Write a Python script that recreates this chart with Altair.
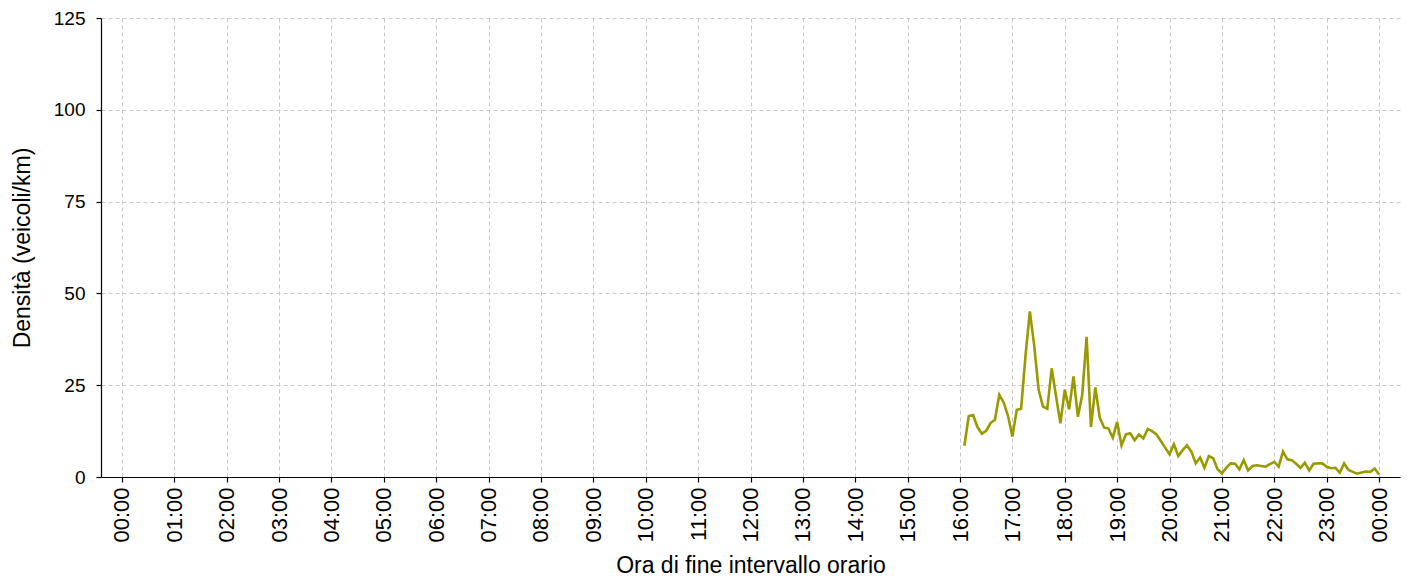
import altair as alt
import pandas as pd

times = [
    "16:05", "16:10", "16:15", "16:20", "16:25", "16:30", "16:35", "16:40", "16:45", "16:50", "16:55",
    "17:00", "17:05", "17:10", "17:15", "17:20", "17:25", "17:30", "17:35", "17:40", "17:45", "17:50", "17:55",
    "18:00", "18:05", "18:10", "18:15", "18:20", "18:25", "18:30", "18:35", "18:40", "18:45", "18:50", "18:55",
    "19:00", "19:05", "19:10", "19:15", "19:20", "19:25", "19:30", "19:35", "19:40", "19:45", "19:50", "19:55",
    "20:00", "20:05", "20:10", "20:15", "20:20", "20:25", "20:30", "20:35", "20:40", "20:45", "20:50", "20:55",
    "21:00", "21:05", "21:10", "21:15", "21:20", "21:25", "21:30", "21:35", "21:40", "21:45", "21:50", "21:55",
    "22:00", "22:05", "22:10", "22:15", "22:20", "22:25", "22:30", "22:35", "22:40", "22:45", "22:50", "22:55",
    "23:00", "23:05", "23:10", "23:15", "23:20", "23:25", "23:30", "23:35", "23:40", "23:45", "23:50", "23:55",
    "24:00",
]

density = [
    8.5, 16.6, 16.9, 13.6, 11.8, 12.6, 14.7, 15.6, 22.4, 20.3,
    16.6, 11.0, 18.3, 18.6, 33.0, 45.1, 35.8, 23.8, 19.2, 18.6,
    29.6, 22.0, 14.6, 23.8, 18.4, 27.4, 16.4, 22.4, 38.2, 13.6,
    24.4, 16.2, 13.5, 13.2, 10.7, 15.0, 8.6, 11.6, 11.9, 10.0,
    11.6, 10.5, 13.1, 12.5, 11.6, 9.8, 8.0, 6.2, 8.9, 5.7,
    7.3, 8.6, 6.9, 3.7, 5.3, 2.5, 5.7, 5.1, 2.1, 1.0,
    2.5, 3.7, 3.6, 2.1, 4.6, 1.8, 3.0, 3.2, 3.0, 2.8,
    3.5, 4.1, 2.8, 6.9, 4.8, 4.6, 3.6, 2.5, 3.9, 1.8,
    3.6, 3.7, 3.7, 2.8, 2.4, 2.5, 1.2, 3.7, 1.9, 1.4,
    0.9, 1.2, 1.5, 1.4, 2.3, 0.7,
]

hour_ticks = list(range(0, 25))
y_ticks = [0, 25, 50, 75, 100, 125]

hours = [int(t[:2]) + int(t[3:]) / 60 for t in times]
df = pd.DataFrame({"ora": hours, "densita": density})

FONT = "Liberation Sans"

chart = (
    alt.Chart(df)
    .mark_line(color="#999900", strokeWidth=2.6)
    .encode(
        x=alt.X(
            "ora:Q",
            title="Ora di fine intervallo orario",
            scale=alt.Scale(domain=[-0.4, 24.4], nice=False, zero=False),
            axis=alt.Axis(
                values=hour_ticks,
                labelExpr="(datum.value % 24 < 10 ? '0' : '') + (datum.value % 24) + ':00'",
                labelAngle=270,
                labelAlign="right",
                labelBaseline="middle",
                labelPadding=5,
                labelFontSize=22,
                titlePadding=12,
            ),
        ),
        y=alt.Y(
            "densita:Q",
            title="Densità (veicoli/km)",
            scale=alt.Scale(domain=[0, 125], nice=False),
            axis=alt.Axis(values=y_ticks, labelPadding=11, labelFontSize=19, titlePadding=19),
        ),
    )
    .properties(
        width=1299,
        height=459,
        autosize=alt.AutoSizeParams(type="none"),
        padding={"left": 93, "top": 10, "right": 7, "bottom": 120},
    )
    .configure_view(stroke=None)
    .configure_axis(
        labelFont=FONT,
        titleFont=FONT,
        titleFontSize=23,
        labelColor="#000000",
        titleColor="#000000",
        titleFontWeight="normal",
        domainColor="#000000",
        domainWidth=1.2,
        tickColor="#000000",
        tickSize=5,
        tickWidth=1.2,
        grid=True,
        gridColor="#c8c8c8",
        gridDash=[4, 3],
        gridWidth=1,
        labelOverlap=False,
        labelFlush=False,
    )
)

chart.save("out.html", embed_options={"renderer": "svg", "actions": False})
